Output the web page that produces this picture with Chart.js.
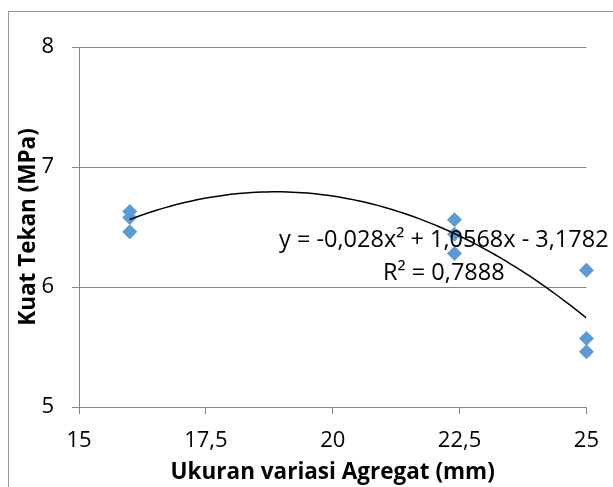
<!DOCTYPE html>
<html>
<head>
<meta charset="utf-8">
<script src="https://cdn.jsdelivr.net/npm/chart.js@4.4.0/dist/chart.umd.min.js"></script>
<style>
    html, body { margin: 0; padding: 0; background: #fff; }
</style>
</head>
<body>
<canvas id="kuatTekanChart" width="613" height="487"></canvas>
<script>
// data
const ukuranAgregat = [16, 16, 16, 22.4, 22.4, 22.4, 25, 25, 25];
const kuatTekan = [6.63, 6.58, 6.46, 6.56, 6.44, 6.28, 6.14, 5.57, 5.46];

// polynomial trendline as printed on the chart: a*x^2 + b*x + c
const trendCoef = [-0.028, 1.0568, -3.1782];
const trendLabel = ['y = -0,028x² + 1,0568x - 3,1782', 'R² = 0,7888'];

const xTickLabels = ['15', '17,5', '20', '22,5', '25'];
const yTickLabels = ['5', '6', '7', '8'];

const axisGray = '#868686';
const markerBlue = '#5B9BD5';

// trendline points across the measured range
const trendPoints = [];
for (let x = 16; x <= 25.0001; x += 0.1) {
    trendPoints.push({ x: x, y: trendCoef[0] * x * x + trendCoef[1] * x + trendCoef[2] });
}

const scatterPoints = ukuranAgregat.map((x, i) => ({ x: x, y: kuatTekan[i] }));

// outer chart border, runs off the bottom/right of the frame
const frameBorder = {
    id: 'frameBorder',
    beforeDraw: function(chart) {
        const ctx = chart.ctx;
        ctx.save();
        ctx.fillStyle = '#fff';
        ctx.fillRect(0, 0, chart.width, chart.height);
        ctx.strokeStyle = '#9a9a9a';
        ctx.lineWidth = 1;
        ctx.strokeRect(8.5, 11.5, 800, 800);
        ctx.restore();
    }
};

// equation + R² label of the trendline
const trendText = {
    id: 'trendText',
    afterDatasetsDraw: function(chart) {
        const ctx = chart.ctx;
        const xs = chart.scales.x;
        const ys = chart.scales.y;
        const cx = xs.getPixelForValue(22.19);
        ctx.save();
        ctx.fillStyle = '#000';
        ctx.font = '23.5px "Open Sans"';
        ctx.textAlign = 'center';
        ctx.textBaseline = 'alphabetic';
        ctx.fillText(trendLabel[0], cx, ys.getPixelForValue(6.333));
        ctx.fillText(trendLabel[1], cx, ys.getPixelForValue(6.058));
        ctx.restore();
    }
};

new Chart(document.getElementById('kuatTekanChart'), {
    type: 'scatter',
    data: {
        datasets: [
            {
                label: 'Trendline',
                type: 'line',
                data: trendPoints,
                borderColor: '#000',
                borderWidth: 1.5,
                pointRadius: 0,
                fill: false,
                order: 0
            },
            {
                label: 'Kuat Tekan',
                data: scatterPoints,
                pointStyle: 'rectRot',
                pointRadius: 7.5,
                pointHoverRadius: 7.5,
                backgroundColor: markerBlue,
                borderColor: markerBlue,
                borderWidth: 0,
                clip: false,
                order: 1
            }
        ]
    },
    options: {
        responsive: false,
        animation: false,
        events: [],
        layout: { padding: { top: 47, right: 26, left: 0, bottom: 0 } },
        plugins: {
            legend: { display: false },
            tooltip: { enabled: false }
        },
        scales: {
            x: {
                type: 'linear',
                min: 15,
                max: 25,
                afterFit: function(scale) { scale.height = 80; },
                ticks: {
                    stepSize: 2.5,
                    color: '#000',
                    padding: 14,
                    maxRotation: 0,
                    font: { family: 'Open Sans', size: 22 },
                    callback: function(value, index) { return xTickLabels[index]; }
                },
                grid: {
                    drawOnChartArea: false,
                    drawTicks: true,
                    tickLength: 7,
                    color: axisGray
                },
                border: { display: true, color: axisGray },
                title: {
                    display: true,
                    text: 'Ukuran variasi Agregat (mm)',
                    color: '#000',
                    font: { family: 'Open Sans', size: 22.5, weight: 'bold' },
                    padding: { top: 0, bottom: 1 }
                }
            },
            y: {
                type: 'linear',
                min: 5,
                max: 8,
                afterFit: function(scale) { scale.width = 79; },
                ticks: {
                    stepSize: 1,
                    color: '#000',
                    padding: 18,
                    font: { family: 'Open Sans', size: 22 },
                    callback: function(value, index) { return yTickLabels[index]; }
                },
                grid: {
                    drawTicks: true,
                    tickLength: 7,
                    color: axisGray
                },
                border: { display: true, color: axisGray },
                title: {
                    display: true,
                    text: 'Kuat Tekan (MPa)',
                    color: '#000',
                    font: { family: 'Open Sans', size: 22.5, weight: 'bold' },
                    padding: { top: 15, bottom: 0 }
                }
            }
        }
    },
    plugins: [frameBorder, trendText]
});
</script>
</body>
</html>
